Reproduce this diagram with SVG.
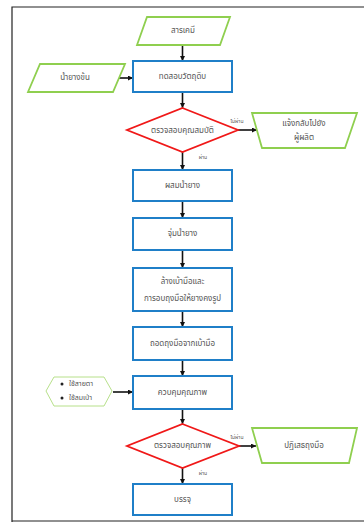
<svg xmlns="http://www.w3.org/2000/svg" width="364" height="522" viewBox="0 0 364 522">
  <defs>
    <marker id="arr" viewBox="0 0 10 10" refX="10" refY="5" markerWidth="5" markerHeight="5" markerUnits="userSpaceOnUse" orient="auto">
      <path d="M0,0 L10,5 L0,10 z" fill="#111"/>
    </marker>
    <style>
      .frame { fill: none; stroke: #222; stroke-width: 1.2; }
      .proc { fill: #fff; stroke: #1f7fc8; stroke-width: 2; }
      .io { fill: #fff; stroke: #8fcf4f; stroke-width: 1.8; }
      .prep { fill: #fff; stroke: #b7e08a; stroke-width: 1; }
      .dec { fill: #fff; stroke: #f01818; stroke-width: 1.8; }
      .conn { fill: none; stroke: #111; stroke-width: 1.6; marker-end: url(#arr); }
      text { font-family: "Noto Sans Thai", "Tahoma", "DejaVu Sans", "Noto Sans", sans-serif; fill: #555; font-size: 8px; text-anchor: middle; dominant-baseline: central; }
      .sm { font-size: 5px; }
      .lt { text-anchor: start; font-size: 7px; }
    </style>
  </defs>

  <rect width="364" height="522" fill="#fff"/>
  <!-- page frame -->
  <path class="frame" d="M364,7 H12 V522"/>
  <path class="frame" d="M12,521 H364"/>

  <g id="connectors">
    <path class="conn" d="M182.5,45 V61"/>
    <path class="conn" d="M116,78 H133"/>
    <path class="conn" d="M182.5,92 V108"/>
    <path class="conn" d="M238,130 H257"/>
    <path class="conn" d="M182.5,152 V170"/>
    <path class="conn" d="M182.5,201 V218"/>
    <path class="conn" d="M182.5,250 V268"/>
    <path class="conn" d="M182.5,311 V327"/>
    <path class="conn" d="M182.5,360 V376"/>
    <path class="conn" d="M113,392 H133"/>
    <path class="conn" d="M182.5,409 V424"/>
    <path class="conn" d="M239,446 H256"/>
    <path class="conn" d="M182.5,468 V484"/>
    <text class="sm" x="237" y="121">ไม่ผ่าน</text>
    <text class="sm" x="203" y="157">ผ่าน</text>
    <text class="sm" x="237" y="437">ไม่ผ่าน</text>
    <text class="sm" x="203" y="473">ผ่าน</text>
  </g>

  <g id="chem">
    <polygon class="io" points="147,17 230,17 220,45 137,45"/>
    <text x="183" y="31">สารเคมี</text>
  </g>
  <g id="latex">
    <polygon class="io" points="40,64 125,64 113,92 28,92"/>
    <text x="75" y="78">น้ำยางข้น</text>
  </g>
  <g id="test-raw">
    <rect class="proc" x="133" y="61" width="99" height="31"/>
    <text x="182.5" y="77">ทดสอบวัตถุดิบ</text>
  </g>
  <g id="check-props">
    <polygon class="dec" points="182.5,108 238,130 182.5,152 127,130"/>
    <text x="182.5" y="131">ตรวจสอบคุณสมบัติ</text>
  </g>
  <g id="notify">
    <polygon class="io" points="252,113 357,113 345,148 262,148"/>
    <text x="304" y="124">แจ้งกลับไปยัง</text>
    <text x="304" y="138">ผู้ผลิต</text>
  </g>
  <g id="mix">
    <rect class="proc" x="133" y="170" width="99" height="31"/>
    <text x="182.5" y="186">ผสมน้ำยาง</text>
  </g>
  <g id="dip">
    <rect class="proc" x="133" y="218" width="99" height="32"/>
    <text x="182.5" y="234">จุ่มน้ำยาง</text>
  </g>
  <g id="wash-cure">
    <rect class="proc" x="133" y="268" width="99" height="43"/>
    <text x="182.5" y="282">ล้างเบ้ามือและ</text>
    <text x="182.5" y="299">การอบถุงมือให้ยางคงรูป</text>
  </g>
  <g id="strip">
    <rect class="proc" x="133" y="327" width="99" height="33"/>
    <text x="182.5" y="344">ถอดถุงมือจากเบ้ามือ</text>
  </g>
  <g id="methods">
    <polygon class="prep" points="46,391 54,377 104,377 112,391 104,406 54,406"/>
    <circle cx="62" cy="384" r="1.5" fill="#222"/>
    <circle cx="62" cy="398" r="1.5" fill="#222"/>
    <text class="lt" x="69" y="384">ใช้สายตา</text>
    <text class="lt" x="69" y="398">ใช้ลมเป่า</text>
  </g>
  <g id="qc">
    <rect class="proc" x="133" y="376" width="99" height="33"/>
    <text x="182.5" y="393">ควบคุมคุณภาพ</text>
  </g>
  <g id="check-quality">
    <polygon class="dec" points="182.5,424 239,446 182.5,468 127,446"/>
    <text x="182.5" y="446">ตรวจสอบคุณภาพ</text>
  </g>
  <g id="reject">
    <polygon class="io" points="252,428 357,428 349,463 262,463"/>
    <text x="304" y="446">ปฏิเสธถุงมือ</text>
  </g>
  <g id="pack">
    <rect class="proc" x="133" y="484" width="99" height="31"/>
    <text x="182.5" y="500">บรรจุ</text>
  </g>
</svg>
